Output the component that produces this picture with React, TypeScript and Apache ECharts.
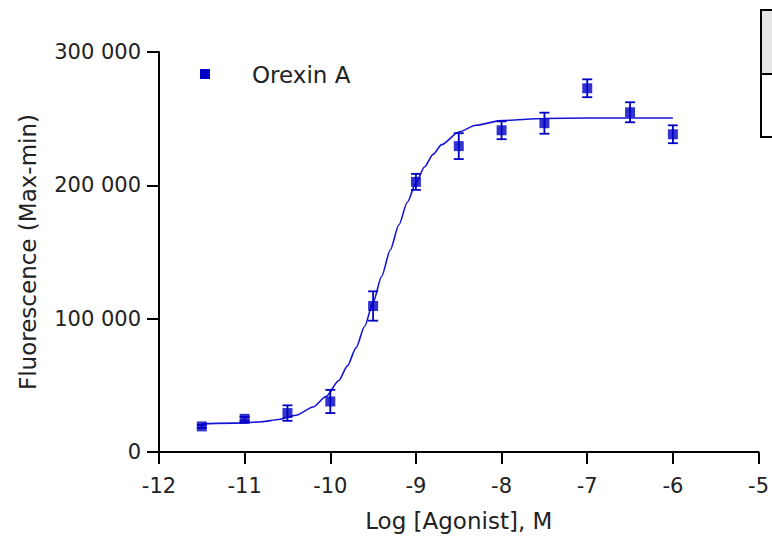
import React, { useEffect, useRef } from "react";
import * as echarts from "echarts";

// Data
const logDose = [-11.5, -11, -10.5, -10, -9.5, -9, -8.5, -8, -7.5, -7, -6.5, -6];
const meanResponse = [19200, 24900, 29200, 37900, 109500, 202600, 229400, 241300, 246600, 272800, 254800, 238300];
const errResponse = [1200, 1500, 5800, 8700, 11000, 6000, 9700, 6700, 7900, 6700, 7500, 6700];

// Fitted curve
const curveX = [-11.5, -11, -10.8, -10.6, -10.4, -10.2, -10.05, -9.9, -9.8, -9.7, -9.6, -9.5, -9.4, -9.3, -9.2, -9.1, -9.0, -8.9, -8.8, -8.7, -8.5, -8.3, -8.0, -7.5, -7, -6.5, -6];
const curveY = [21150, 21850, 22700, 24350, 27600, 33750, 41600, 53650, 64600, 78100, 94100, 112300, 131800, 151500, 170300, 187300, 201850, 213800, 223200, 230500, 240000, 245100, 248550, 250150, 250450, 250500, 250500];

const seriesName = "Orexin A";
const xTitle = "Log [Agonist], M";
const yTitle = "Fluorescence (Max-min)";

const FONT = "DejaVu Sans";
const TEXT = "#222";
const BLUE = "#0000c4";

export default function App() {
  const ref = useRef<HTMLDivElement>(null);
  useEffect(() => {
    if (!ref.current) return;
    const chart = echarts.init(ref.current, null, { renderer: "svg" });
    const points = logDose.map((x, i) => [x, meanResponse[i]]);
    const errs = logDose.map((x, i) => [x, meanResponse[i] - errResponse[i], meanResponse[i] + errResponse[i]]);
    const curve = curveX.map((x, i) => [x, curveY[i]]);
    chart.setOption({
      animation: false,
      backgroundColor: "#fff",
      grid: { left: 159, right: 11, top: 52, bottom: 85 },
      xAxis: {
        type: "value",
        min: -12,
        max: -5,
        interval: 1,
        name: xTitle,
        nameLocation: "middle",
        nameGap: 57,
        nameTextStyle: { fontFamily: FONT, fontSize: 23, color: TEXT },
        axisLine: { onZero: false, lineStyle: { color: "#000", width: 2 } },
        axisTick: { show: true, length: 12, lineStyle: { color: "#000", width: 2 } },
        axisLabel: { fontFamily: FONT, fontSize: 21, color: TEXT, margin: 23 },
        splitLine: { show: false },
      },
      yAxis: {
        type: "value",
        min: 0,
        max: 300000,
        interval: 100000,
        name: yTitle,
        nameLocation: "middle",
        nameGap: 120,
        nameRotate: 90,
        nameTextStyle: { fontFamily: FONT, fontSize: 23, color: TEXT },
        axisLine: { show: true, lineStyle: { color: "#000", width: 2 } },
        axisTick: { show: true, length: 12, lineStyle: { color: "#000", width: 2 } },
        axisLabel: {
          fontFamily: FONT,
          fontSize: 21,
          color: TEXT,
          margin: 18,
          formatter: (v: number) => String(v).replace(/\B(?=(\d{3})+(?!\d))/g, " "),
        },
        splitLine: { show: false },
      },
      series: [
        {
          type: "line",
          data: curve,
          smooth: 0.25,
          smoothMonotone: "x",
          showSymbol: false,
          symbol: "none",
          lineStyle: { color: "#1414d8", width: 1.6 },
          z: 2,
        },
        {
          type: "custom",
          data: errs,
          z: 3,
          renderItem: (params: any, api: any) => {
            const x = api.value(0);
            const lo = api.coord([x, api.value(1)]);
            const hi = api.coord([x, api.value(2)]);
            const cw = 5;
            const st = { stroke: BLUE, lineWidth: 1.8 };
            return {
              type: "group",
              children: [
                { type: "line", shape: { x1: lo[0], y1: lo[1], x2: hi[0], y2: hi[1] }, style: st },
                { type: "line", shape: { x1: lo[0] - cw, y1: lo[1], x2: lo[0] + cw, y2: lo[1] }, style: st },
                { type: "line", shape: { x1: hi[0] - cw, y1: hi[1], x2: hi[0] + cw, y2: hi[1] }, style: st },
              ],
            };
          },
        },
        {
          name: seriesName,
          type: "scatter",
          data: points,
          symbol: "rect",
          symbolSize: 10,
          itemStyle: { color: BLUE },
          z: 4,
        },
      ],
      graphic: [
        { type: "rect", left: 200, top: 69, shape: { width: 10, height: 10 }, style: { fill: BLUE } },
        {
          type: "text",
          x: 252,
          y: 75,
          style: { text: seriesName, fontFamily: FONT, fontSize: 23, fill: TEXT, textVerticalAlign: "middle", verticalAlign: "middle" },
        },
        { type: "rect", shape: { x: 761, y: 10, width: 30, height: 127 }, style: { fill: "#fff", stroke: "#000", lineWidth: 2 } },
        { type: "rect", shape: { x: 761, y: 10, width: 30, height: 64 }, style: { fill: "#e6e6e6", stroke: "#000", lineWidth: 2 } },
      ],
    });
    return () => chart.dispose();
  }, []);
  return <div ref={ref} style={{ position: "fixed", left: 0, top: 0, width: 772, height: 537 }} />;
}
